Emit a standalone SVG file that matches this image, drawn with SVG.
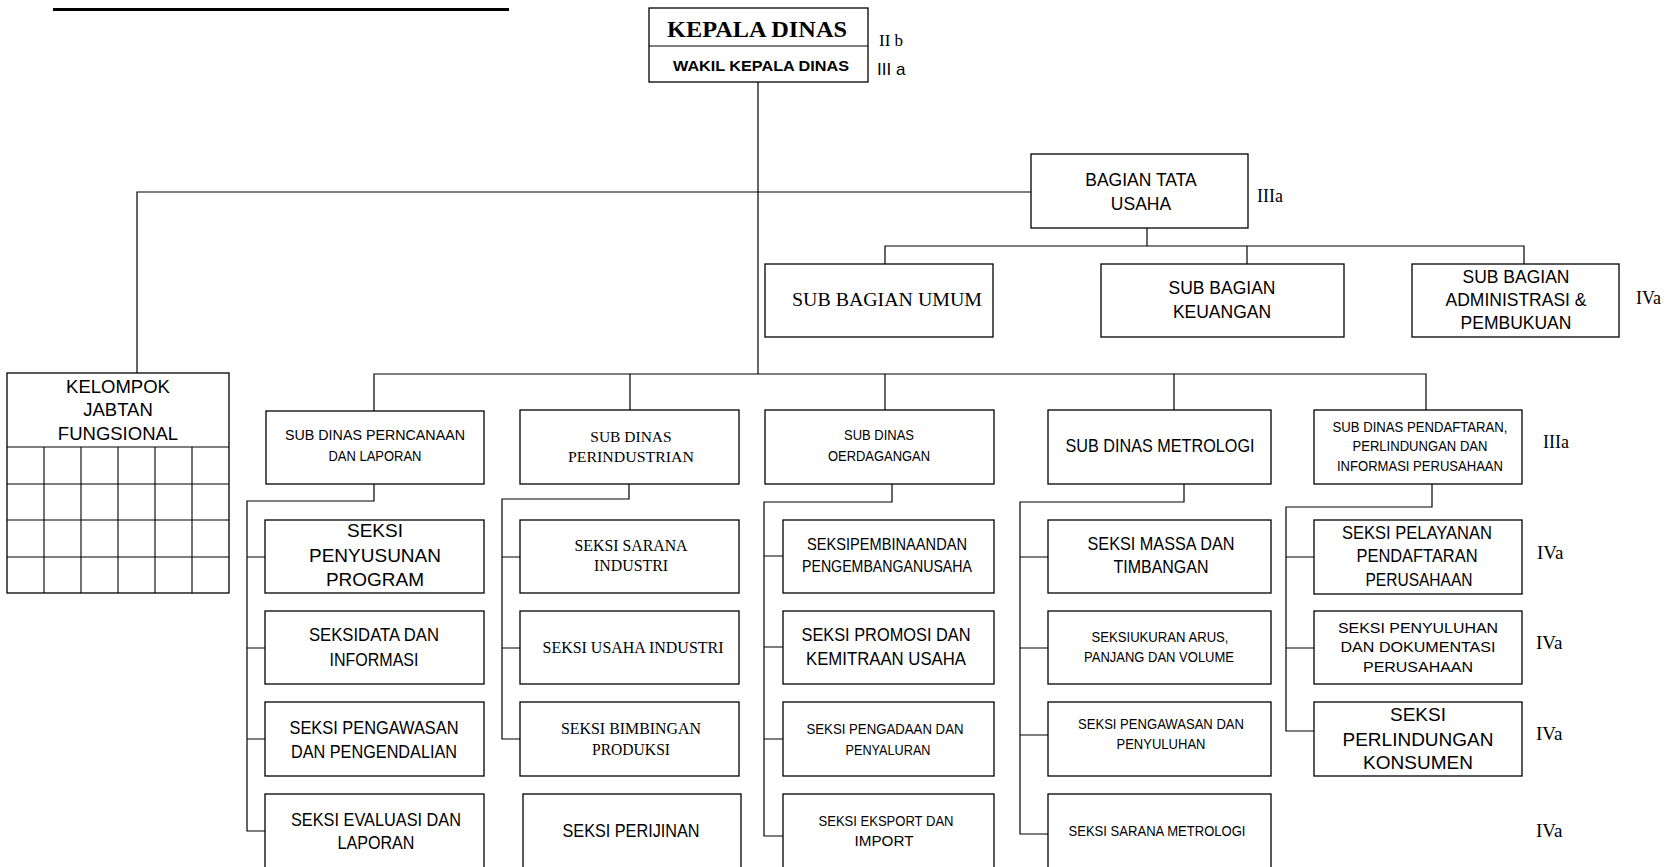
<svg xmlns="http://www.w3.org/2000/svg" width="1669" height="867" viewBox="0 0 1669 867">
<style>
.b{fill:#fff;stroke:#000;stroke-width:1.3}
.c{fill:none;stroke:#000;stroke-width:1.2}
.g{fill:none;stroke:#000;stroke-width:1.1}
text{fill:#000;text-anchor:middle}
.s{font-family:"Liberation Sans",Arial,sans-serif}
.t{font-family:"Liberation Serif","Times New Roman",serif}
.l{text-anchor:start}
</style>
<rect width="1669" height="867" fill="#fff"/>
<rect x="53" y="8" width="456" height="3" fill="#000"/>

<g id="connectors">
<polyline class="c" points="758,82 758,374"/>
<polyline class="c" points="137,373 137,192 1031,192"/>
<polyline class="c" points="1147,228 1147,246"/>
<polyline class="c" points="885,264 885,246 1524,246 1524,264"/>
<polyline class="c" points="1247,246 1247,264"/>
<polyline class="c" points="374,411 374,374 1426,374 1426,410"/>
<polyline class="c" points="630,374 630,410"/>
<polyline class="c" points="885,374 885,410"/>
<polyline class="c" points="1174,374 1174,410"/>
<polyline class="c" points="374,484 374,501 247,501 247,831 265,831"/>
<path class="c" d="M247,557H265M247,648H265M247,739H265"/>
<polyline class="c" points="629,484 629,499 502,499 502,739 520,739"/>
<path class="c" d="M502,557H520M502,648H520"/>
<polyline class="c" points="892,484 892,502 764,502 764,836 783,836"/>
<path class="c" d="M764,556H783M764,647H783M764,739H783"/>
<polyline class="c" points="1184,484 1184,502 1020,502 1020,834 1048,834"/>
<path class="c" d="M1020,557H1048M1020,648H1048M1020,735H1048"/>
<polyline class="c" points="1432,484 1432,507 1286,507 1286,731 1314,731"/>
<path class="c" d="M1286,557H1314M1286,648H1314"/>
</g>

<g id="kepala-dinas">
<rect class="b" x="649" y="8" width="219" height="74"/>
<line class="c" x1="649" y1="46" x2="868" y2="46"/>
<text class="t" x="757" y="37" font-size="23" font-weight="bold" textLength="180" lengthAdjust="spacingAndGlyphs">KEPALA DINAS</text>
<text class="s" x="761" y="71" font-size="15" font-weight="bold" textLength="176" lengthAdjust="spacingAndGlyphs">WAKIL KEPALA DINAS</text>
<text class="t l" x="879" y="46" font-size="17">II b</text>
<text class="s l" x="877" y="75" font-size="17">III a</text>
</g>

<g id="bagian-tata-usaha">
<rect class="b" x="1031" y="154" width="217" height="74"/>
<text class="s" x="1141" y="186" font-size="17.5">BAGIAN TATA</text>
<text class="s" x="1141" y="210" font-size="17.5">USAHA</text>
<text class="t l" x="1257" y="202" font-size="18">IIIa</text>
</g>

<g id="sub-bagian-umum">
<rect class="b" x="765" y="264" width="228" height="73"/>
<text class="t" x="887" y="306" font-size="19.5" textLength="190" lengthAdjust="spacingAndGlyphs">SUB BAGIAN UMUM</text>
</g>

<g id="sub-bagian-keuangan">
<rect class="b" x="1101" y="264" width="243" height="73"/>
<text class="s" x="1222" y="294" font-size="17.5">SUB BAGIAN</text>
<text class="s" x="1222" y="318" font-size="17.5">KEUANGAN</text>
</g>

<g id="sub-bagian-administrasi">
<rect class="b" x="1412" y="264" width="207" height="73"/>
<text class="s" x="1516" y="283" font-size="17.5">SUB BAGIAN</text>
<text class="s" x="1516" y="306" font-size="17.5">ADMINISTRASI &amp;</text>
<text class="s" x="1516" y="329" font-size="17.5">PEMBUKUAN</text>
<text class="t l" x="1636" y="304" font-size="18">IVa</text>
</g>

<g id="kelompok-jabatan-fungsional">
<rect class="b" x="7" y="373" width="222" height="220"/>
<path class="g" d="M7,447H229M7,484H229M7,520H229M7,557H229M44,447V593M81,447V593M118,447V593M155,447V593M192,447V593"/>
<text class="s" x="118" y="393" font-size="18.5">KELOMPOK</text>
<text class="s" x="118" y="416" font-size="18.5">JABTAN</text>
<text class="s" x="118" y="440" font-size="18.5">FUNGSIONAL</text>
</g>

<g id="sub-dinas-perencanaan">
<rect class="b" x="266" y="411" width="218" height="73"/>
<text class="s" x="375" y="440" font-size="14.5" textLength="180" lengthAdjust="spacingAndGlyphs">SUB DINAS PERNCANAAN</text>
<text class="s" x="375" y="461" font-size="14.5" textLength="93" lengthAdjust="spacingAndGlyphs">DAN LAPORAN</text>
</g>

<g id="sub-dinas-perindustrian">
<rect class="b" x="520" y="410" width="219" height="74"/>
<text class="t" x="631" y="442" font-size="15.5">SUB DINAS</text>
<text class="t" x="631" y="462" font-size="15.5" textLength="126" lengthAdjust="spacingAndGlyphs">PERINDUSTRIAN</text>
</g>

<g id="sub-dinas-perdagangan">
<rect class="b" x="765" y="410" width="229" height="74"/>
<text class="s" x="879" y="440" font-size="14.5" textLength="70" lengthAdjust="spacingAndGlyphs">SUB DINAS</text>
<text class="s" x="879" y="461" font-size="14.5" textLength="102" lengthAdjust="spacingAndGlyphs">OERDAGANGAN</text>
</g>

<g id="sub-dinas-metrologi">
<rect class="b" x="1048" y="410" width="223" height="74"/>
<text class="s" x="1160" y="452" font-size="18" textLength="189" lengthAdjust="spacingAndGlyphs">SUB DINAS METROLOGI</text>
</g>

<g id="sub-dinas-pendaftaran">
<rect class="b" x="1314" y="410" width="208" height="74"/>
<text class="s" x="1420" y="432" font-size="14" textLength="175" lengthAdjust="spacingAndGlyphs">SUB DINAS PENDAFTARAN,</text>
<text class="s" x="1420" y="451" font-size="14" textLength="135" lengthAdjust="spacingAndGlyphs">PERLINDUNGAN DAN</text>
<text class="s" x="1420" y="471" font-size="14" textLength="166" lengthAdjust="spacingAndGlyphs">INFORMASI PERUSAHAAN</text>
<text class="t l" x="1543" y="448" font-size="18">IIIa</text>
</g>

<g id="seksi-penyusunan-program">
<rect class="b" x="265" y="520" width="219" height="73"/>
<text class="s" x="375" y="537" font-size="19">SEKSI</text>
<text class="s" x="375" y="562" font-size="19">PENYUSUNAN</text>
<text class="s" x="375" y="586" font-size="19">PROGRAM</text>
</g>
<g id="seksi-data-informasi">
<rect class="b" x="265" y="611" width="219" height="73"/>
<text class="s" x="374" y="641" font-size="18.5" textLength="130" lengthAdjust="spacingAndGlyphs">SEKSIDATA DAN</text>
<text class="s" x="374" y="666" font-size="18.5" textLength="89" lengthAdjust="spacingAndGlyphs">INFORMASI</text>
</g>
<g id="seksi-pengawasan-pengendalian">
<rect class="b" x="265" y="702" width="219" height="74"/>
<text class="s" x="374" y="734" font-size="18.5" textLength="169" lengthAdjust="spacingAndGlyphs">SEKSI PENGAWASAN</text>
<text class="s" x="374" y="758" font-size="18.5" textLength="166" lengthAdjust="spacingAndGlyphs">DAN PENGENDALIAN</text>
</g>
<g id="seksi-evaluasi-laporan">
<rect class="b" x="265" y="794" width="219" height="100"/>
<text class="s" x="376" y="826" font-size="18.5" textLength="170" lengthAdjust="spacingAndGlyphs">SEKSI EVALUASI DAN</text>
<text class="s" x="376" y="849" font-size="18.5" textLength="77" lengthAdjust="spacingAndGlyphs">LAPORAN</text>
</g>

<g id="seksi-sarana-industri">
<rect class="b" x="520" y="520" width="219" height="73"/>
<text class="t" x="631" y="551" font-size="16" textLength="113" lengthAdjust="spacingAndGlyphs">SEKSI SARANA</text>
<text class="t" x="631" y="571" font-size="16" textLength="74" lengthAdjust="spacingAndGlyphs">INDUSTRI</text>
</g>
<g id="seksi-usaha-industri">
<rect class="b" x="520" y="611" width="219" height="73"/>
<text class="t" x="633" y="653" font-size="16" textLength="181" lengthAdjust="spacingAndGlyphs">SEKSI USAHA INDUSTRI</text>
</g>
<g id="seksi-bimbingan-produksi">
<rect class="b" x="520" y="702" width="219" height="74"/>
<text class="t" x="631" y="734" font-size="16" textLength="140" lengthAdjust="spacingAndGlyphs">SEKSI BIMBINGAN</text>
<text class="t" x="631" y="755" font-size="16" textLength="78" lengthAdjust="spacingAndGlyphs">PRODUKSI</text>
</g>
<g id="seksi-perijinan">
<rect class="b" x="523" y="794" width="218" height="100"/>
<text class="s" x="631" y="837" font-size="18" textLength="137" lengthAdjust="spacingAndGlyphs">SEKSI PERIJINAN</text>
</g>

<g id="seksi-pembinaan-usaha">
<rect class="b" x="783" y="520" width="211" height="73"/>
<text class="s" x="887" y="550" font-size="17" textLength="160" lengthAdjust="spacingAndGlyphs">SEKSIPEMBINAANDAN</text>
<text class="s" x="887" y="572" font-size="17" textLength="170" lengthAdjust="spacingAndGlyphs">PENGEMBANGANUSAHA</text>
</g>
<g id="seksi-promosi-kemitraan">
<rect class="b" x="783" y="611" width="211" height="73"/>
<text class="s" x="886" y="641" font-size="18" textLength="169" lengthAdjust="spacingAndGlyphs">SEKSI PROMOSI DAN</text>
<text class="s" x="886" y="665" font-size="18" textLength="160" lengthAdjust="spacingAndGlyphs">KEMITRAAN USAHA</text>
</g>
<g id="seksi-pengadaan-penyaluran">
<rect class="b" x="783" y="702" width="211" height="74"/>
<text class="s" x="885" y="734" font-size="14" textLength="157" lengthAdjust="spacingAndGlyphs">SEKSI PENGADAAN DAN</text>
<text class="s" x="888" y="755" font-size="14" textLength="85" lengthAdjust="spacingAndGlyphs">PENYALURAN</text>
</g>
<g id="seksi-eksport-import">
<rect class="b" x="783" y="794" width="211" height="100"/>
<text class="s" x="886" y="826" font-size="14" textLength="135" lengthAdjust="spacingAndGlyphs">SEKSI EKSPORT DAN</text>
<text class="s" x="884" y="846" font-size="14" textLength="59" lengthAdjust="spacingAndGlyphs">IMPORT</text>
</g>

<g id="seksi-massa-timbangan">
<rect class="b" x="1048" y="520" width="223" height="73"/>
<text class="s" x="1161" y="550" font-size="18" textLength="147" lengthAdjust="spacingAndGlyphs">SEKSI MASSA DAN</text>
<text class="s" x="1161" y="573" font-size="18" textLength="95" lengthAdjust="spacingAndGlyphs">TIMBANGAN</text>
</g>
<g id="seksi-ukuran-arus">
<rect class="b" x="1048" y="611" width="223" height="73"/>
<text class="s" x="1160" y="642" font-size="14" textLength="137" lengthAdjust="spacingAndGlyphs">SEKSIUKURAN ARUS,</text>
<text class="s" x="1159" y="662" font-size="14" textLength="150" lengthAdjust="spacingAndGlyphs">PANJANG DAN VOLUME</text>
</g>
<g id="seksi-pengawasan-penyuluhan">
<rect class="b" x="1048" y="702" width="223" height="74"/>
<text class="s" x="1161" y="729" font-size="14" textLength="166" lengthAdjust="spacingAndGlyphs">SEKSI PENGAWASAN DAN</text>
<text class="s" x="1161" y="749" font-size="14" textLength="89" lengthAdjust="spacingAndGlyphs">PENYULUHAN</text>
</g>
<g id="seksi-sarana-metrologi">
<rect class="b" x="1048" y="794" width="223" height="100"/>
<text class="s" x="1157" y="836" font-size="14" textLength="177" lengthAdjust="spacingAndGlyphs">SEKSI SARANA METROLOGI</text>
</g>

<g id="seksi-pelayanan-pendaftaran">
<rect class="b" x="1314" y="520" width="208" height="74"/>
<text class="s" x="1417" y="539" font-size="18" textLength="150" lengthAdjust="spacingAndGlyphs">SEKSI PELAYANAN</text>
<text class="s" x="1417" y="562" font-size="18" textLength="121" lengthAdjust="spacingAndGlyphs">PENDAFTARAN</text>
<text class="s" x="1419" y="586" font-size="18" textLength="107" lengthAdjust="spacingAndGlyphs">PERUSAHAAN</text>
<text class="t l" x="1537" y="559" font-size="19">IVa</text>
</g>
<g id="seksi-penyuluhan-dokumentasi">
<rect class="b" x="1314" y="611" width="208" height="73"/>
<text class="s" x="1418" y="633" font-size="15" textLength="160" lengthAdjust="spacingAndGlyphs">SEKSI PENYULUHAN</text>
<text class="s" x="1418" y="652" font-size="15" textLength="155" lengthAdjust="spacingAndGlyphs">DAN DOKUMENTASI</text>
<text class="s" x="1418" y="672" font-size="15" textLength="110" lengthAdjust="spacingAndGlyphs">PERUSAHAAN</text>
<text class="t l" x="1536" y="649" font-size="19">IVa</text>
</g>
<g id="seksi-perlindungan-konsumen">
<rect class="b" x="1314" y="702" width="208" height="74"/>
<text class="s" x="1418" y="721" font-size="19">SEKSI</text>
<text class="s" x="1418" y="746" font-size="19">PERLINDUNGAN</text>
<text class="s" x="1418" y="769" font-size="19">KONSUMEN</text>
<text class="t l" x="1536" y="740" font-size="19">IVa</text>
</g>
<text class="t l" x="1536" y="837" font-size="19">IVa</text>
</svg>
